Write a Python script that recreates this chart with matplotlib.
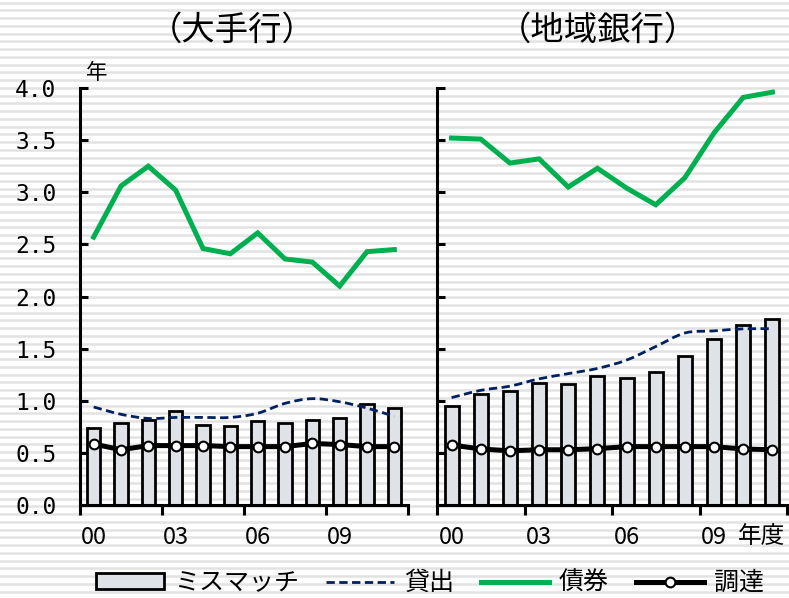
import numpy as np
import matplotlib.pyplot as plt
from matplotlib.path import Path
from matplotlib.patches import PathPatch, Patch
from matplotlib.lines import Line2D

plt.rcParams['font.family'] = ['Noto Sans CJK JP', 'DejaVu Sans']

years = ['00', '01', '02', '03', '04', '05', '06', '07', '08', '09', '10', '11']
tick_labels = ['00', '03', '06', '09']

# 大手行
big_mismatch = [0.74, 0.79, 0.82, 0.90, 0.77, 0.76, 0.81, 0.79, 0.82, 0.83, 0.97, 0.93]
big_loans = [0.94, 0.87, 0.83, 0.84, 0.84, 0.84, 0.88, 0.975, 1.02, 0.99, 0.93, 0.85]
big_bonds = [2.57, 3.06, 3.25, 3.02, 2.46, 2.41, 2.61, 2.36, 2.33, 2.10, 2.43, 2.45]
big_funding = [0.585, 0.53, 0.57, 0.57, 0.57, 0.56, 0.56, 0.56, 0.59, 0.58, 0.56, 0.56]

# 地域銀行
reg_mismatch = [0.95, 1.06, 1.09, 1.17, 1.16, 1.24, 1.22, 1.28, 1.43, 1.59, 1.73, 1.78]
reg_loans = [1.03, 1.10, 1.14, 1.21, 1.26, 1.31, 1.39, 1.52, 1.65, 1.67, 1.69, 1.69]
reg_bonds = [3.52, 3.51, 3.28, 3.32, 3.05, 3.23, 3.04, 2.88, 3.14, 3.57, 3.91, 3.96]
reg_funding = [0.576, 0.537, 0.52, 0.53, 0.53, 0.54, 0.56, 0.56, 0.56, 0.56, 0.537, 0.53]

GREEN = '#00b050'
NAVY = '#002060'
BARFILL = '#dfe2e7'
NUMFONT = ['Liberation Sans Narrow', 'Noto Sans CJK JP']


def smooth_path(x, y):
    # catmull-rom style bezier, like excel's smoothed line
    p = np.column_stack([x, y]).astype(float)
    verts = [p[0]]
    codes = [Path.MOVETO]
    n = len(p)
    for i in range(n - 1):
        p0 = p[i - 1] if i > 0 else p[i]
        p3 = p[i + 2] if i + 2 < n else p[i + 1]
        c1 = p[i] + (p[i + 1] - p0) / 6
        c2 = p[i + 1] - (p3 - p[i]) / 6
        verts += [c1, c2, p[i + 1]]
        codes += [Path.CURVE4] * 3
    return Path(verts, codes)


fig = plt.figure(figsize=(7.89, 5.98), dpi=100)

# striped background
bg = fig.add_axes([0, 0, 1, 1], zorder=-10)
bg.set_xlim(0, 1)
bg.set_ylim(598, 0)
bg.axis('off')
for yy in np.arange(2.7, 598, 7.75):
    bg.axhline(yy, color='#e2e2e2', lw=1.8)


def panel(rect, mismatch, loans, bonds, funding, show_ylabels):
    ax = fig.add_axes(rect)
    ax.patch.set_alpha(0)
    x = np.arange(len(years))
    ax.bar(x, mismatch, width=0.48, color=BARFILL, edgecolor='black', linewidth=2.0, zorder=2)
    ax.add_patch(PathPatch(smooth_path(x, loans), fill=False, edgecolor=NAVY,
                           lw=2.0, linestyle=(0, (3, 1.6)), zorder=3))
    ax.plot(x, bonds, color=GREEN, lw=3.6, zorder=4, solid_joinstyle='miter')
    ax.plot(x, funding, color='black', lw=3.6, marker='o', markersize=7,
            markerfacecolor='white', markeredgecolor='black', markeredgewidth=1.5, zorder=5)
    ax.set_xlim(-0.5, 11.5)
    ax.set_ylim(0, 4)
    for s in ['top', 'right']:
        ax.spines[s].set_visible(False)
    for s in ['left', 'bottom']:
        ax.spines[s].set_linewidth(2.2)
    ax.set_yticks(np.arange(0, 4.01, 0.5))
    if show_ylabels:
        ax.set_yticklabels([f'{v:.1f}' for v in np.arange(0, 4.01, 0.5)],
                           fontfamily='DejaVu Sans Mono', fontsize=16.5)
    else:
        ax.set_yticklabels([])
    ax.tick_params(axis='y', direction='in', length=6, width=2.2, pad=17)
    ax.set_xticks([-0.5, 2.5, 5.5, 8.5, 11.5])
    ax.set_xticklabels([])
    ax.tick_params(axis='x', which='major', direction='out', length=7, width=2.2)
    ax.set_xticks([0, 3, 6, 9], minor=True)
    ax.set_xticklabels(tick_labels, minor=True, fontfamily=NUMFONT, fontsize=17)
    ax.tick_params(axis='x', which='minor', length=0, pad=15)
    return ax


ax1 = panel([80 / 789, 93 / 598, 328 / 789, 417 / 598],
            big_mismatch, big_loans, big_bonds, big_funding, True)
ax2 = panel([437 / 789, 93 / 598, 350 / 789, 417 / 598],
            reg_mismatch, reg_loans, reg_bonds, reg_funding, False)

fig.text(232 / 789, 1 - 30 / 598, '（大手行）', ha='center', va='center', fontsize=24)
fig.text(598 / 789, 1 - 30 / 598, '（地域銀行）', ha='center', va='center', fontsize=24)
fig.text(97 / 789, 1 - 73 / 598, '年', ha='center', va='center', fontsize=15.5)
ax2.text(9.8, -0.3, '年度', ha='left', va='center', fontsize=17)

handles = [
    Patch(facecolor=BARFILL, edgecolor='black', linewidth=2.0),
    Line2D([], [], color=NAVY, lw=2.0, linestyle=(0, (3, 1.6))),
    Line2D([], [], color=GREEN, lw=3.6),
    Line2D([], [], color='black', lw=3.6, marker='o', markersize=7,
           markerfacecolor='white', markeredgecolor='black', markeredgewidth=1.5),
]
labels = ['ミスマッチ', '貸出', '債券', '調達']
fig.legend(handles, labels, loc='center', bbox_to_anchor=(430 / 789, 15 / 598), ncol=4,
           frameon=False, fontsize=18, handlelength=2.7, handleheight=0.6,
           handletextpad=0.4, columnspacing=1.1, borderaxespad=0)

fig.savefig('out.png', dpi=100)
